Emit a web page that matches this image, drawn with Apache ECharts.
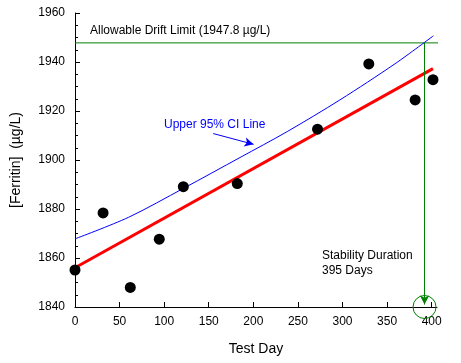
<!DOCTYPE html>
<html><head><meta charset="utf-8">
<script src="https://cdn.jsdelivr.net/npm/echarts@6/dist/echarts.min.js"></script>
<style>html,body{margin:0;padding:0;background:#fff}#c{width:461px;height:363px}</style>
</head><body><div id="c"></div>
<script>
const testDays = [0, 31.5, 62, 94.5, 121.5, 182, 272, 329.5, 381.5, 401.5];
const ferritin = [1855.1, 1878.4, 1848.0, 1867.7, 1889.1, 1890.4, 1912.6, 1939.2, 1924.5, 1932.8];
const fitDays = [0, 401.5];
const fitValues = [1856.0, 1937.3];
const ciDays = [0, 60, 122, 185, 238, 297, 359, 402];
const ciValues = [1867.8, 1876.6, 1888.5, 1901.0, 1911.6, 1924.5, 1939.3, 1950.7];
const driftLimit = 1947.8;
const crossDay = 392;
const xTicks = [0, 50, 100, 150, 200, 250, 300, 350, 400];
const yTicks = [1840, 1860, 1880, 1900, 1920, 1940, 1960];

const FONT = 'Liberation Sans, Arial, sans-serif';
const chart = echarts.init(document.getElementById('c'), null, {renderer: 'canvas'});
const green = '#008000';
chart.setOption({
  animation: false,
  backgroundColor: '#fff',
  grid: {left: 75, top: 13, right: 24, bottom: 56, containLabel: false},
  xAxis: {
    type: 'value', min: 0, max: 406, interval: 50,
    name: 'Test Day', nameLocation: 'middle', nameGap: 35,
    nameTextStyle: {fontFamily: FONT, fontSize: 14, color: '#000'},
    axisLine: {lineStyle: {color: '#000', width: 1}},
    axisTick: {inside: true, length: 5, lineStyle: {color: '#000'}, customValues: xTicks},
    axisLabel: {fontFamily: FONT, fontSize: 12, color: '#000', margin: 9, customValues: xTicks},
    splitLine: {show: false}
  },
  yAxis: {
    type: 'value', min: 1840, max: 1960, interval: 20,
    name: '[Ferritin]  (µg/L)', nameLocation: 'middle', nameGap: 52, nameRotate: 90,
    nameTextStyle: {fontFamily: FONT, fontSize: 14, color: '#000'},
    axisLine: {show: true, lineStyle: {color: '#000', width: 1}},
    axisTick: {show: true, inside: true, length: 5, lineStyle: {color: '#000', width: 1}},
    minorTick: {show: true, splitNumber: 4, length: 3, lineStyle: {color: '#000', width: 1}},
    axisLabel: {fontFamily: FONT, fontSize: 12, color: '#000', margin: 10, formatter: v => String(v)},
    splitLine: {show: false}
  },
  series: [
    {
      type: 'line', data: ciDays.map((d, i) => [d, ciValues[i]]),
      showSymbol: false, symbol: 'none', smooth: 0.3,
      lineStyle: {color: '#0000ff', width: 1}, z: 3, clip: false
    },
    {
      type: 'line', data: fitDays.map((d, i) => [d, fitValues[i]]),
      symbol: 'none', lineStyle: {color: '#ff0000', width: 3}, z: 4
    },
    {
      type: 'line', data: [[0, driftLimit], [419, driftLimit]],
      symbol: 'none', lineStyle: {color: green, width: 1}, clip: false, z: 2,
      markLine: {
        silent: true, symbol: ['none', 'arrow'], symbolSize: [7, 9],
        lineStyle: {color: green, width: 1, type: 'solid'}, label: {show: false},
        data: [[{coord: [crossDay, driftLimit]}, {coord: [crossDay, 1841]}]]
      }
    },
    {
      type: 'scatter', data: [[crossDay, 1840]], symbol: 'circle', symbolSize: 23,
      itemStyle: {color: 'rgba(0,0,0,0)', borderColor: green, borderWidth: 1, opacity: 1}, clip: false, z: 5
    },
    {
      type: 'scatter', data: testDays.map((d, i) => [d, ferritin[i]]),
      symbol: 'circle', symbolSize: 11, itemStyle: {color: '#000', opacity: 1}, clip: false, z: 6,
      markLine: {
        silent: true, symbol: ['none', 'arrow'], symbolSize: [7, 9],
        lineStyle: {color: '#0000ff', width: 1, type: 'solid'}, label: {show: false},
        data: [[{coord: [155, 1910.8]}, {coord: [200.2, 1906.4]}]]
      }
    }
  ],
  graphic: [
    {type: 'text', left: 90, top: 25, style: {text: 'Allowable Drift Limit (1947.8 µg/L)', font: '12px ' + FONT, fill: '#000'}},
    {type: 'text', left: 164, top: 119, style: {text: 'Upper 95% CI Line', font: '12px ' + FONT, fill: '#0000ff'}},
    {type: 'text', left: 322, top: 248, style: {text: 'Stability Duration\n395 Days', font: '12px ' + FONT, fill: '#000', lineHeight: 15}}
  ]
});
</script></body></html>
